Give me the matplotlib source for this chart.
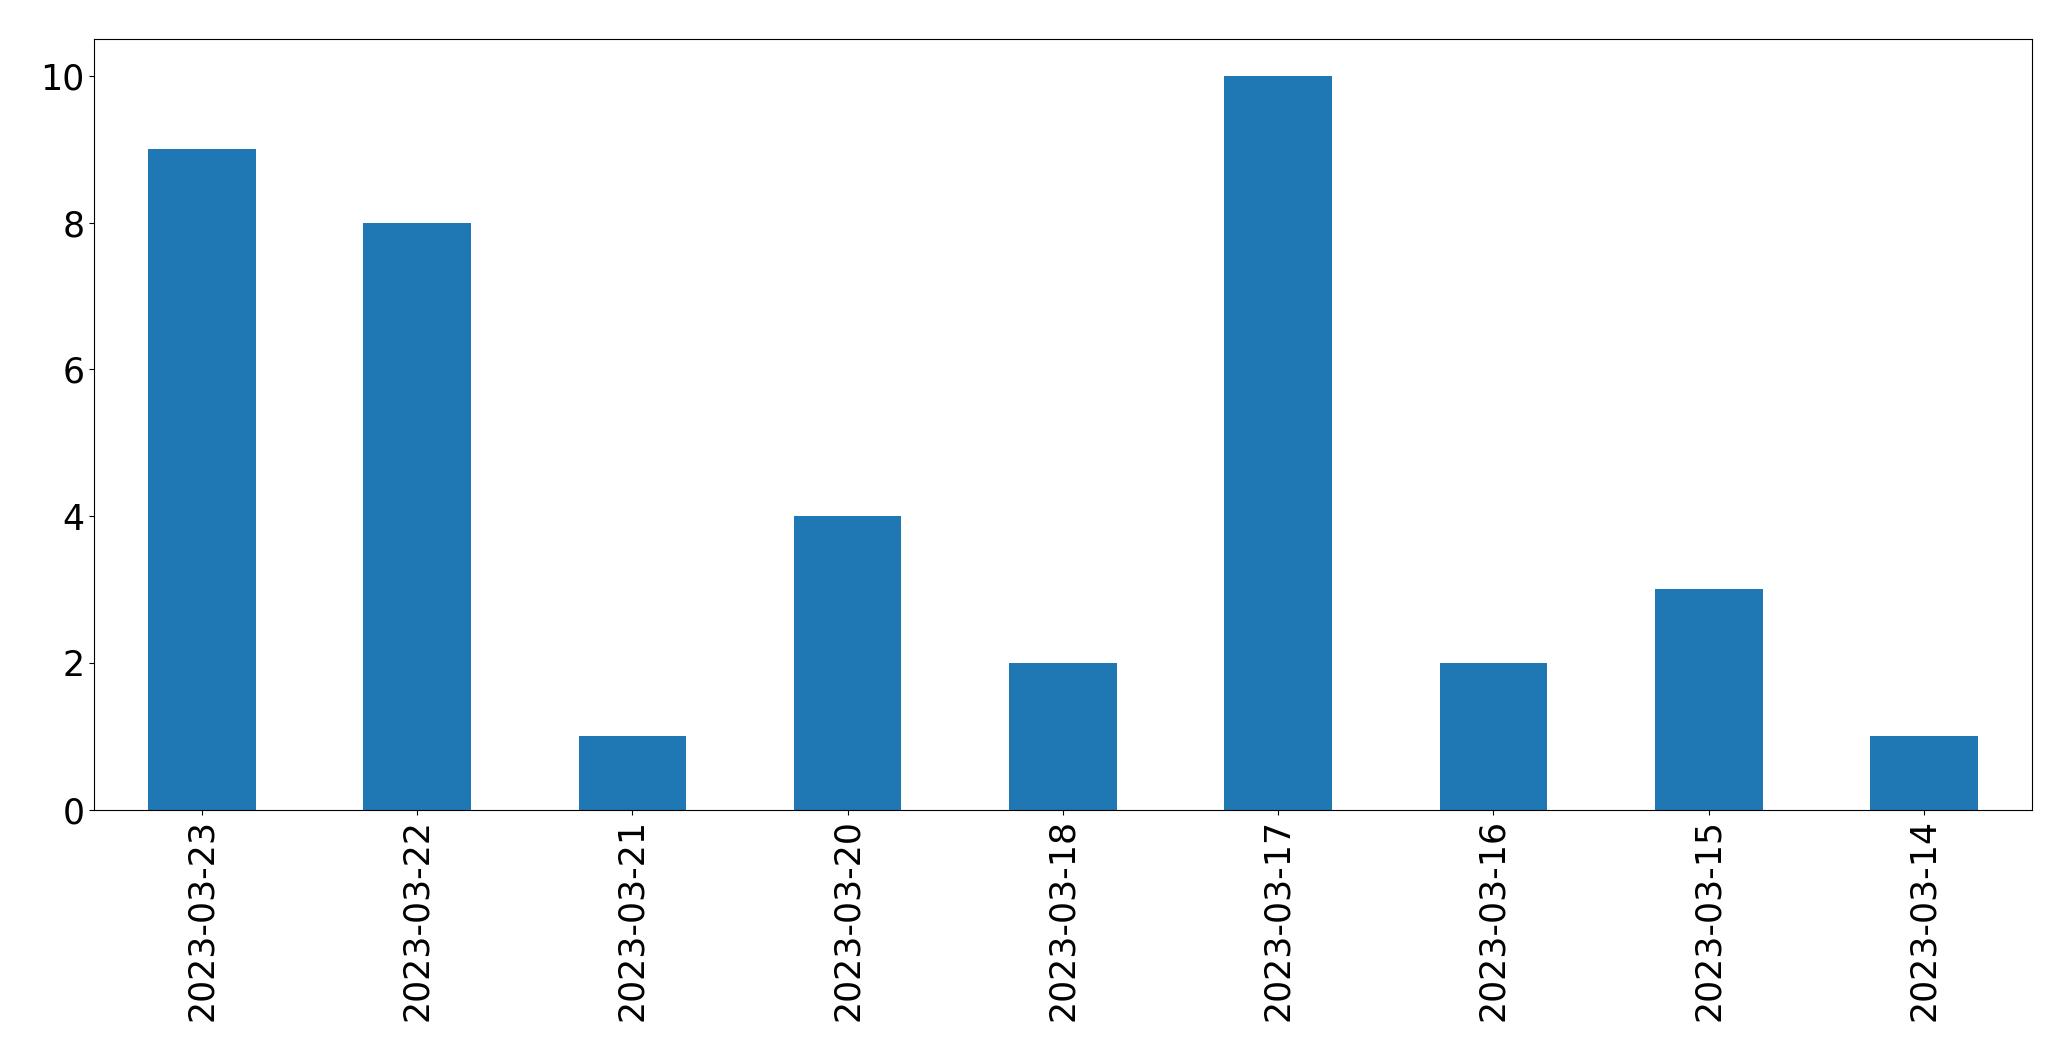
import matplotlib
matplotlib.use('Agg')
import matplotlib.pyplot as plt
import pandas as pd

# counts per day, in the order shown on the chart
dates = ['2023-03-23', '2023-03-22', '2023-03-21', '2023-03-20', '2023-03-18',
         '2023-03-17', '2023-03-16', '2023-03-15', '2023-03-14']
counts = [9, 8, 1, 4, 2, 10, 2, 3, 1]

s = pd.Series(counts, index=dates)

fig, ax = plt.subplots(figsize=(20.71, 10.61), dpi=100)
s.plot(kind='bar', ax=ax, color='#1f77b4', fontsize=25)
plt.subplots_adjust(left=0.0455, right=0.981, top=0.963, bottom=0.237)

plt.savefig('out.png', dpi=100)
